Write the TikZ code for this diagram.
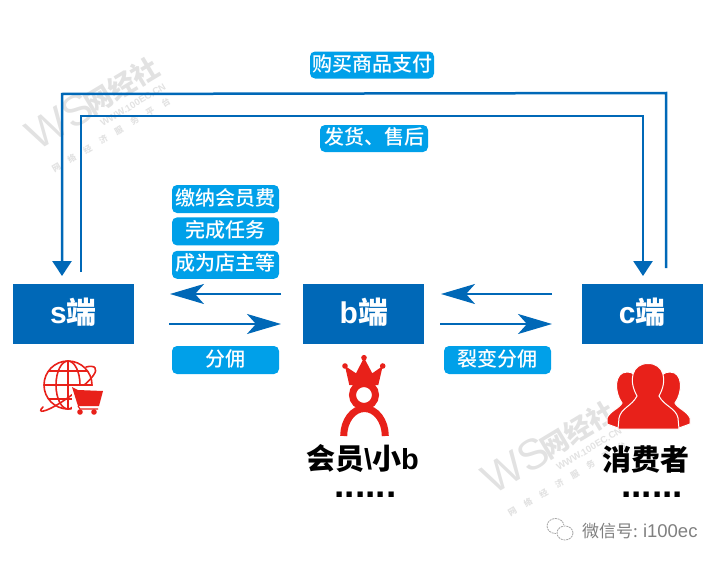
\documentclass[tikz,border=0pt]{standalone}
\usepackage{fontspec}
\setmainfont{Noto Sans CJK SC}
\newfontfamily\mediumfont{Noto Sans CJK SC Medium}
\newfontfamily\latinfont{Liberation Sans}
\usetikzlibrary{positioning, arrows.meta}
\definecolor{boxblue}{HTML}{0068B7}
\definecolor{tagblue}{HTML}{00A0E9}
\definecolor{iconred}{HTML}{E8211A}
\definecolor{markgrey}{HTML}{E2E2E2}
\tikzset{
    wsmark/.pic={ % Watermark, origin at the left end of the big letters
        \node[markgrey, rotate=31, anchor=west, font=\latinfont\fontsize{43}{43}\selectfont] (-ws) at (3,-9) {WS};
        \node[markgrey, rotate=31, anchor=west, font=\bfseries\fontsize{27}{27}\selectfont] (-name) at (60,-42) {网经社};
        \node[markgrey, rotate=31, font=\latinfont\bfseries\fontsize{9.5}{9.5}\selectfont] (-url) at (109,-45) {WWW.100EC.CN};
        \node[markgrey, rotate=31, font=\bfseries\fontsize{8.5}{8.5}\selectfont] (-slogan) at (87,-15) {网\ \ \ \ \ 络\ \ \ \ \ 经\ \ \ \ \ 济\ \ \ \ \ 服\ \ \ \ \ 务\ \ \ \ \ 平\ \ \ \ \ 台};
    }
}
\begin{document}
\begin{tikzpicture}[
            x=1pt, y=-1pt,
            endbox/.style={fill=boxblue, text=white, minimum width=121pt, minimum height=60pt, inner sep=0pt, text height=19.4pt, text depth=0.6pt, font=\bfseries\fontsize{30}{30}\selectfont}, % Blue end boxes
            tagbox/.style={fill=tagblue, text=white, rounded corners=5pt, minimum width=107pt, minimum height=28pt, inner sep=0pt, text height=14pt, text depth=2pt, font=\mediumfont\fontsize{20}{20}\selectfont}, % Labels on the arrows
            longflow/.style={draw=boxblue, line width=2.5pt, -{Triangle[length=15pt, width=19pt]}}, % Arrows over the top
            shortflow/.style={draw=boxblue, line width=2.5pt, -{Stealth[length=34pt, width=20pt, inset=9pt]}}, % Arrows between boxes
            caption/.style={font=\bfseries\fontsize{29}{29}\selectfont},
            dots/.style={font=\latinfont\bfseries\fontsize{37}{37}\selectfont, anchor=base},
            iconfill/.style={fill=iconred, draw=none},
            iconline/.style={draw=iconred, line width=1.6pt},
            cutline/.style={fill=iconred, draw=white, line width=1pt}
            ]

    \useasboundingbox (0,0) rectangle (721,562);

    % Watermarks
    \pic (marka) at (24,150) {wsmark};
    \pic (markb) at (480,494) {wsmark};

    % Boxes
    \node[endbox] (sbox) at (73.5,314) {{\latinfont\bfseries s}端};
    \node[endbox, right=169pt of sbox] (bbox) {{\latinfont\bfseries b}端};
    \node[endbox, right=158pt of bbox, xshift=-1pt] (cbox) {{\latinfont\bfseries c}端};

    % Free ends of the arrows
    \coordinate (buyfrom) at (666,268);
    \coordinate (buyright) at (666,93);
    \coordinate (buyleft) at (62,94);
    \coordinate (buyto) at (62,276);
    \coordinate (sendfrom) at (81,272);
    \coordinate (sendleft) at (81,116);
    \coordinate (sendright) at (643,116);
    \coordinate (sendto) at (643,276);
    \coordinate (feefrom) at (281,294);
    \coordinate (feeto) at (170,294);
    \coordinate (sharefrom) at (169,324);
    \coordinate (shareto) at (281,324);
    \coordinate (splitfrom) at (552,294);
    \coordinate (splitto) at (441,294);
    \coordinate (buyinfrom) at (440,324);
    \coordinate (buyinto) at (552,324);

    \draw[longflow] (buyfrom) -- (buyright) -- (buyleft) -- (buyto);
    \draw[longflow] (sendfrom) -- (sendleft) -- (sendright) -- (sendto);
    \draw[shortflow] (feefrom) -- (feeto);
    \draw[shortflow] (sharefrom) -- (shareto);
    \draw[shortflow] (splitfrom) -- (splitto);
    \draw[shortflow] (buyinfrom) -- (buyinto);

    % Labels
    \node[tagbox, minimum width=124pt, minimum height=27pt] (buytag) at (372,65) {购买商品支付};
    \node[tagbox, minimum width=108pt, minimum height=27pt] (sendtag) at (374,138.5) {发货、售后};
    \node[tagbox] (feetag) at (225.5,199) {缴纳会员费};
    \node[tagbox, below=4pt of feetag] (tasktag) {完成任务};
    \node[tagbox, below=5pt of tasktag] (ranktag) {成为店主等};
    \node[tagbox] (sharetag) at (225.5,360) {分佣};
    \node[tagbox] (splittag) at (497.5,360) {裂变分佣};

    % Globe with cart
    \draw[iconline] (68,385) circle (24pt);
    \draw[iconline] (68,385) ellipse (12pt and 24pt);
    \draw[iconline] (68,361) -- (68,409);
    \draw[iconline] (45,385) -- (91,385);
    \draw[iconline] (49,371) -- (87,371);
    \draw[iconline] (49,399) -- (87,399);
    \draw[iconline, line cap=round] (43,407) .. controls (36,414) and (46,412) .. (60,403) .. controls (76,393) and (100,374) .. (95,368) .. controls (94,366) and (90,366) .. (86,367);
    \fill[white] (72,386) rectangle (106,417);
    \fill[iconfill] (72,387) -- (78,390) -- (103,391) -- (99,406) -- (78,406) -- cycle;
    \draw[iconline, line width=1.2pt] (78,406) -- (80,409) -- (98,409);
    \fill[iconfill] (80,412) circle (2.8pt);
    \fill[iconfill] (94,412) circle (2.8pt);

    % Member with crown
    \fill[iconfill] (345,366) -- (356,373.3) -- (364,357.7) -- (372.3,373.3) -- (382.7,366) -- (378.3,385) -- (349.3,385) -- cycle;
    \fill[iconfill] (345,366) circle (2.8pt);
    \fill[iconfill] (364,357.7) circle (2.8pt);
    \fill[iconfill] (382.7,366) circle (2.8pt);
    \draw[draw=iconred, line width=7pt] (364,395) circle (11.5pt);
    \draw[draw=iconred, line width=7pt] (343.7,436) arc[start angle=180, end angle=0, x radius=20.8pt, y radius=27.5pt];
    \node[caption] (membertext) at (362.5,459) {会员{\latinfont\textbackslash}小{\latinfont b}};
    \node[dots] (memberdots) at (365.5,497) {......};

    % Group of consumers
    \path[cutline] (607,418) .. controls (610,411) and (620,408) .. (622,403) .. controls (614,392) and (614,372) .. (627,372) .. controls (633,372) and (636,375) .. (637,380) -- (640,428) -- (618,428) -- (607,424) -- cycle;
    \path[cutline] (690,418) .. controls (687,411) and (677,408) .. (675,403) .. controls (683,392) and (683,372) .. (670,372) .. controls (664,372) and (661,375) .. (660,380) -- (657,428) -- (679,428) -- (690,424) -- cycle;
    \path[cutline] (618,429) -- (619,418) .. controls (621,408) and (632,406) .. (637,396) .. controls (628,380) and (632,363.5) .. (648,363.5) .. controls (664,363.5) and (668,380) .. (659,396) .. controls (664,406) and (676,408) .. (678,418) -- (679,429) -- cycle;
    \node[caption] (consumertext) at (646,459) {消费者};
    \node[dots] (consumerdots) at (652,497) {......};

    % WeChat sign
    \draw[draw=gray!70, line width=0.8pt, dash pattern=on 2pt off 0.8pt] (555.5,526) ellipse (8.5pt and 7.5pt);
    \fill[white] (565,533) ellipse (9pt and 8pt);
    \draw[draw=gray!70, line width=0.8pt, dash pattern=on 2pt off 0.8pt] (565,533) ellipse (8pt and 7pt);
    \node[text=gray, font=\fontsize{17}{17}\selectfont, anchor=west, inner sep=0pt] (signtext) at (582,531) {微信号: {\latinfont\fontsize{18.5}{18.5}\selectfont i100ec}};

\end{tikzpicture}
\end{document}
